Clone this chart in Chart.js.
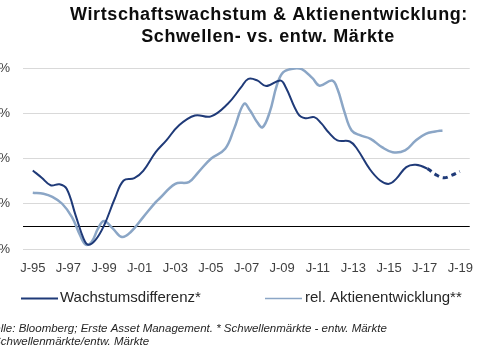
<!DOCTYPE html>
<html>
<head>
<meta charset="utf-8">
<script src="https://cdn.jsdelivr.net/npm/chart.js@4.4.1/dist/chart.umd.min.js"></script>
<style>
  html, body { margin: 0; padding: 0; background: #ffffff; }
  #wrap { width: 485px; height: 360px; overflow: hidden; position: relative; }
  canvas { display: block; }
</style>
</head>
<body>
<div id="wrap"><canvas id="c" width="485" height="360"></canvas></div>
<script>
// ---- data ----
const titleLines = ['Wirtschaftswachstum & Aktienentwicklung:', 'Schwellen- vs. entw. Märkte'];
const seriesNames = ['Wachstumsdifferenz*', 'rel. Aktienentwicklung**'];
const footnotes = ['Quelle: Bloomberg; Erste Asset Management. * Schwellenmärkte - entw. Märkte', '** Schwellenmärkte/entw. Märkte'];

const xTickYears = [1995, 1997, 1999, 2001, 2003, 2005, 2007, 2009, 2011, 2013, 2015, 2017, 2019];
const xTickLabels = ['J-95', 'J-97', 'J-99', 'J-01', 'J-03', 'J-05', 'J-07', 'J-09', 'J-11', 'J-13', 'J-15', 'J-17', 'J-19'];
const yTicks = [-1, 1, 3, 5, 7];
const yTickLabels = ['-1%', '1%', '3%', '5%', '7%'];

// Wachstumsdifferenz (dashed part = forecast from 2017.15)
const growthYears = [1995.0, 1995.5, 1996.0, 1996.5, 1996.9, 1997.4, 1997.85, 1998.1, 1998.5, 1999.0, 1999.6, 2000.1, 2000.7, 2001.2, 2001.9, 2002.5, 2003.2, 2004.1, 2005.0, 2005.95, 2006.7, 2007.1, 2007.6, 2008.1, 2008.9, 2009.2, 2009.9, 2010.3, 2010.8, 2011.2, 2011.6, 2012.1, 2012.8, 2013.2, 2013.9, 2014.5, 2015.0, 2015.4, 2015.97, 2016.5, 2017.15, 2017.6, 2018.06, 2018.5, 2018.97];
const growthDiff = [2.47, 2.15, 1.82, 1.86, 1.66, 0.5, -0.54, -0.81, -0.62, 0.04, 1.22, 2.03, 2.13, 2.45, 3.28, 3.8, 4.46, 4.9, 4.86, 5.42, 6.15, 6.52, 6.45, 6.2, 6.45, 6.15, 4.97, 4.78, 4.83, 4.55, 4.16, 3.8, 3.75, 3.43, 2.55, 2.03, 1.88, 2.1, 2.62, 2.72, 2.55, 2.3, 2.15, 2.25, 2.43];
const forecastFrom = 2017.15;

// relative Aktienentwicklung
const equityYears = [1995.0, 1995.6, 1996.1, 1996.65, 1997.2, 1997.66, 1997.97, 1998.3, 1998.66, 1999.0, 1999.5, 2000.0, 2000.5, 2001.2, 2001.9, 2002.1, 2003.0, 2003.76, 2004.3, 2005.0, 2005.8, 2006.3, 2006.86, 2007.2, 2007.6, 2007.9, 2008.3, 2008.7, 2009.05, 2009.6, 2010.1, 2010.7, 2011.1, 2011.8, 2012.1, 2012.5, 2012.9, 2013.4, 2013.96, 2014.6, 2015.2, 2015.9, 2016.5, 2017.06, 2017.6, 2018.0];
const relEquity = [1.49, 1.44, 1.3, 1.0, 0.41, -0.4, -0.81, -0.69, -0.1, 0.24, -0.1, -0.47, -0.25, 0.41, 1.07, 1.22, 1.88, 1.96, 2.4, 2.99, 3.43, 4.31, 5.42, 5.12, 4.6, 4.38, 5.05, 6.23, 6.81, 6.97, 6.95, 6.55, 6.22, 6.45, 6.08, 5.05, 4.24, 4.02, 3.87, 3.5, 3.28, 3.36, 3.8, 4.09, 4.19, 4.24];

const darkBlue = '#1f3a78';
const lightBlue = '#8ba6c6';

Chart.defaults.font.family = "'Liberation Sans', Arial, sans-serif";

const toPoints = (xs, ys) => xs.map((x, i) => ({ x: x, y: ys[i] }));

const extras = {
  id: 'extras',
  beforeDatasetsDraw(chart) {
    const { ctx, chartArea, scales } = chart;
    const y0 = Math.round(scales.y.getPixelForValue(0)) + 0.5;
    ctx.save();
    ctx.strokeStyle = '#000000';
    ctx.lineWidth = 1;
    ctx.beginPath();
    ctx.moveTo(chartArea.left, y0);
    ctx.lineTo(chartArea.right, y0);
    ctx.stroke();
    ctx.restore();
  },
  afterDraw(chart) {
    const { ctx } = chart;
    ctx.save();
    // title
    ctx.fillStyle = '#0d0d0d';
    ctx.textAlign = 'center';
    ctx.textBaseline = 'alphabetic';
    ctx.font = "bold 18px 'Liberation Sans', Arial, sans-serif";
    try { ctx.letterSpacing = '0.6px'; } catch (e) {}
    ctx.fillText(titleLines[0], 269, 19.5);
    ctx.fillText(titleLines[1], 268, 42);
    try { ctx.letterSpacing = '0px'; } catch (e) {}
    // legend
    const ds = chart.data.datasets;
    const items = [{ x1: 21, x2: 58, tx: 60 }, { x1: 265, x2: 302, tx: 305 }];
    ctx.font = "15px 'Liberation Sans', Arial, sans-serif";
    ctx.textAlign = 'left';
    ctx.textBaseline = 'middle';
    const ly = 298;
    items.forEach((it, i) => {
      ctx.strokeStyle = ds[i].borderColor;
      ctx.lineWidth = i === 0 ? 2 : 1.5;
      ctx.beginPath();
      ctx.moveTo(it.x1, ly + 0.5);
      ctx.lineTo(it.x2, ly + 0.5);
      ctx.stroke();
      ctx.fillStyle = '#262626';
      ctx.fillText(ds[i].label, it.tx, ly);
    });
    // footnotes
    ctx.font = "italic 11.5px 'Liberation Sans', Arial, sans-serif";
    ctx.fillStyle = '#262626';
    ctx.fillText(footnotes[0], -21, 329);
    ctx.fillText(footnotes[1], -19, 342);
    ctx.restore();
  }
};

new Chart(document.getElementById('c'), {
  type: 'line',
  data: {
    datasets: [
      {
        label: seriesNames[0],
        data: toPoints(growthYears, growthDiff),
        borderColor: darkBlue,
        borderWidth: 2,
        pointRadius: 0,
        tension: 0.4,
        fill: false,
        segment: {
          borderDash: c => (c.p0.parsed.x >= forecastFrom - 0.01 ? [5, 4] : undefined),
          borderWidth: c => (c.p0.parsed.x >= forecastFrom - 0.01 ? 3 : 2)
        }
      },
      {
        label: seriesNames[1],
        data: toPoints(equityYears, relEquity),
        borderColor: lightBlue,
        borderWidth: 2.5,
        pointRadius: 0,
        tension: 0.4,
        fill: false
      }
    ]
  },
  options: {
    responsive: false,
    animation: false,
    devicePixelRatio: 1,
    layout: { padding: { top: 68, right: 3, bottom: 81, left: 0 } },
    plugins: {
      legend: { display: false },
      title: { display: false },
      tooltip: { enabled: false }
    },
    scales: {
      x: {
        type: 'linear',
        min: 1994.45,
        max: 2019.53,
        grid: { display: false, drawTicks: false },
        border: { display: false },
        afterBuildTicks: s => { s.ticks = xTickYears.map(v => ({ value: v })); },
        afterFit: s => { s.height = 30; },
        ticks: {
          autoSkip: false,
          maxRotation: 0,
          padding: 12,
          color: '#404040',
          font: { size: 13 },
          callback: v => xTickLabels[xTickYears.indexOf(v)]
        }
      },
      y: {
        min: -1,
        max: 7,
        grid: { color: '#d9d9d9', lineWidth: 1, drawTicks: false },
        border: { display: false },
        afterBuildTicks: s => { s.ticks = yTicks.map(v => ({ value: v })); },
        afterFit: s => { s.width = 23; },
        ticks: {
          padding: 13,
          color: '#404040',
          font: { size: 13 },
          callback: v => yTickLabels[yTicks.indexOf(v)]
        }
      }
    }
  },
  plugins: [extras]
});
</script>
</body>
</html>
